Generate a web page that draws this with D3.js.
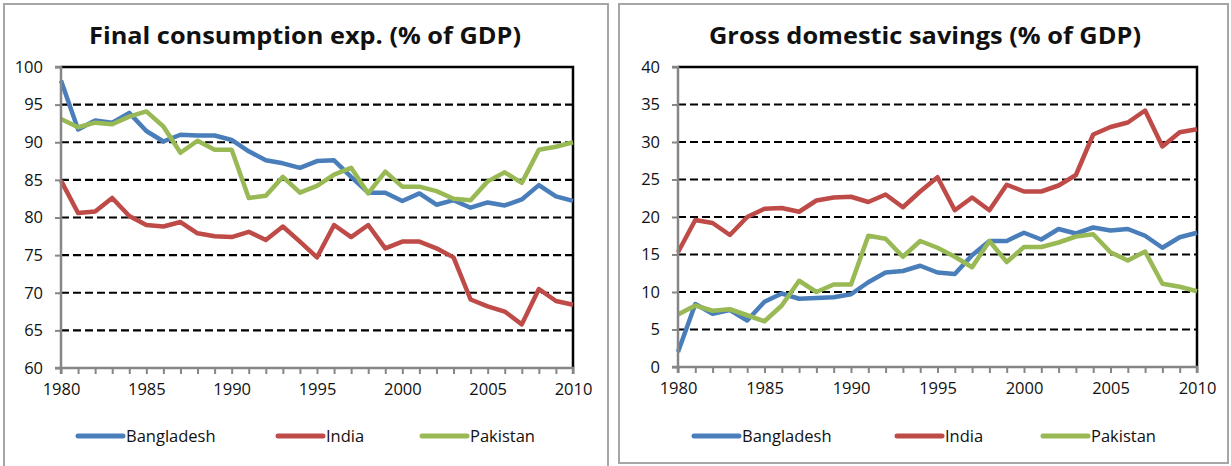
<!DOCTYPE html>
<html>
<head>
<meta charset="utf-8">
<script src="https://cdn.jsdelivr.net/npm/d3@7"></script>
<style>
body { margin: 0; background: #fff; }
text { font-family: "Open Sans", Lato, sans-serif; fill: #111; }
</style>
</head>
<body>
<svg id="chart" width="1231" height="466"></svg>
<script>
'use strict';
// data
var years = [1980, 1981, 1982, 1983, 1984, 1985, 1986, 1987, 1988, 1989, 1990,
             1991, 1992, 1993, 1994, 1995, 1996, 1997, 1998, 1999, 2000,
             2001, 2002, 2003, 2004, 2005, 2006, 2007, 2008, 2009, 2010];
var xTicks = [1980, 1985, 1990, 1995, 2000, 2005, 2010];
var countries = ['Bangladesh', 'India', 'Pakistan'];
var colors = ['#4a7ebb', '#be4b48', '#98b954'];

// Final consumption exp. (% of GDP)
var consBangladesh = [98.2, 91.7, 92.9, 92.6, 93.9, 91.5, 90.1, 91.0, 90.9, 90.9, 90.3,
                      88.8, 87.6, 87.2, 86.6, 87.5, 87.6, 85.4, 83.3, 83.3, 82.2,
                      83.2, 81.7, 82.3, 81.3, 82.0, 81.6, 82.4, 84.3, 82.8, 82.2];
var consIndia = [84.9, 80.6, 80.8, 82.6, 80.2, 79.0, 78.8, 79.4, 77.9, 77.5, 77.4,
                 78.1, 77.0, 78.8, 76.8, 74.7, 79.0, 77.4, 79.0, 75.9, 76.8,
                 76.8, 75.9, 74.7, 69.1, 68.2, 67.5, 65.8, 70.5, 68.9, 68.4];
var consPakistan = [93.1, 92.0, 92.6, 92.4, 93.4, 94.1, 92.1, 88.6, 90.2, 89.0, 89.0,
                    82.6, 82.9, 85.4, 83.3, 84.2, 85.7, 86.6, 83.2, 86.1, 84.1,
                    84.1, 83.5, 82.5, 82.3, 84.8, 86.0, 84.6, 89.0, 89.4, 90.0];

// Gross domestic savings (% of GDP)
var savBangladesh = [2.0, 8.4, 7.1, 7.6, 6.2, 8.7, 9.8, 9.1, 9.2, 9.3, 9.7,
                     11.3, 12.6, 12.8, 13.5, 12.6, 12.4, 14.9, 16.8, 16.8, 17.9,
                     17.0, 18.4, 17.8, 18.6, 18.2, 18.4, 17.5, 15.9, 17.3, 17.9];
var savIndia = [15.3, 19.6, 19.2, 17.6, 20.0, 21.1, 21.2, 20.7, 22.2, 22.6, 22.7,
                22.0, 23.0, 21.3, 23.4, 25.3, 20.9, 22.6, 20.9, 24.3, 23.4,
                23.4, 24.2, 25.6, 31.0, 32.0, 32.6, 34.2, 29.4, 31.3, 31.7];
var savPakistan = [7.0, 8.2, 7.5, 7.7, 6.9, 6.1, 8.2, 11.5, 10.0, 11.0, 11.0,
                   17.5, 17.1, 14.7, 16.8, 15.9, 14.7, 13.3, 16.8, 14.0, 16.0,
                   16.0, 16.6, 17.4, 17.7, 15.3, 14.2, 15.4, 11.1, 10.7, 10.1];

var consTicks = [60, 65, 70, 75, 80, 85, 90, 95, 100];
var savTicks = [0, 5, 10, 15, 20, 25, 30, 35, 40];

var svg = d3.select('#chart');

function drawChart(cfg){
    var g = svg.append('g');

    // panel frame
    g.append('rect')
        .attr('x', cfg.panel[0]).attr('y', cfg.panel[1])
        .attr('width', cfg.panel[2]).attr('height', cfg.panel[3])
        .attr('fill', '#fff').attr('stroke', '#a6a6a6').attr('stroke-width', 2);

    g.append('text')
        .text(cfg.title)
        .attr('x', cfg.titleX).attr('y', 44)
        .attr('text-anchor', 'middle')
        .attr('font-size', 23).attr('font-weight', 'bold')
        .attr('textLength', 432).attr('lengthAdjust', 'spacingAndGlyphs');

    var x = d3.scaleLinear().domain([years[0], years[years.length - 1]]).range([cfg.left, cfg.right]);
    var y = d3.scaleLinear().domain([cfg.ticks[0], cfg.ticks[cfg.ticks.length - 1]]).range([cfg.bottom, cfg.top]);

    // dashed gridlines
    g.selectAll('.grid')
        .data(cfg.ticks.slice(1, -1))
        .enter()
        .append('line')
        .attr('x1', cfg.left).attr('x2', cfg.right)
        .attr('y1', function(d){return y(d);}).attr('y2', function(d){return y(d);})
        .attr('stroke', '#000').attr('stroke-width', 2.2)
        .attr('stroke-dasharray', '8,4');

    // top and right border of the plot
    g.append('path')
        .attr('d', 'M' + cfg.left + ',' + cfg.top + 'H' + cfg.right + 'V' + cfg.bottom)
        .attr('fill', 'none').attr('stroke', '#000').attr('stroke-width', 2.5);

    var line = d3.line()
        .x(function(d, i){return x(years[i]);})
        .y(function(d){return y(d);});

    g.selectAll('.series')
        .data(cfg.series)
        .enter()
        .append('path')
        .attr('d', function(d){return line(d);})
        .attr('fill', 'none')
        .attr('stroke', function(d, i){return colors[i];})
        .attr('stroke-width', 4.5)
        .attr('stroke-linejoin', 'round');

    // axes
    var yAxis = g.append('g')
        .attr('transform', 'translate(' + cfg.left + ',0)')
        .call(d3.axisLeft(y).tickValues(cfg.ticks).tickSize(6).tickPadding(12));
    var xAxis = g.append('g')
        .attr('transform', 'translate(0,' + cfg.bottom + ')')
        .call(d3.axisBottom(x).tickValues(years).tickSize(6).tickPadding(9)
            .tickFormat(function(d){return xTicks.indexOf(d) >= 0 ? d : '';}));
    [yAxis, xAxis].forEach(function(a){
        a.select('.domain').attr('stroke', '#868686').attr('stroke-width', 2.5);
        a.selectAll('.tick line').attr('stroke', '#868686').attr('stroke-width', 2);
        a.selectAll('.tick text')
            .attr('font-family', '"Open Sans", sans-serif')
            .attr('font-size', 16.5).attr('fill', '#111');
    });
    yAxis.select('.domain').attr('d', 'M-6,' + cfg.top + 'H0V' + cfg.bottom + 'H-6');
    xAxis.select('.domain').attr('d', 'M' + cfg.left + ',6V0H' + cfg.right + 'V6');

    // legend
    var leg = g.selectAll('.legend')
        .data(countries)
        .enter()
        .append('g')
        .attr('transform', function(d, i){return 'translate(' + cfg.legendX[i] + ',436)';});
    leg.append('line')
        .attr('x1', 0).attr('x2', 45)
        .attr('stroke', function(d, i){return colors[i];})
        .attr('stroke-width', 5).attr('stroke-linecap', 'round');
    leg.append('text')
        .text(function(d){return d;})
        .attr('x', 48).attr('y', 6)
        .attr('font-size', 16.5);
}

drawChart({
    title: 'Final consumption exp. (% of GDP)',
    titleX: 305,
    panel: [4, 4, 604, 470],
    left: 61, right: 573, top: 67, bottom: 368,
    ticks: consTicks,
    series: [consBangladesh, consIndia, consPakistan],
    legendX: [78, 278, 422]
});

drawChart({
    title: 'Gross domestic savings (% of GDP)',
    titleX: 925,
    panel: [619, 4, 609, 459],
    left: 678, right: 1197, top: 67, bottom: 367,
    ticks: savTicks,
    series: [savBangladesh, savIndia, savPakistan],
    legendX: [694, 897, 1043]
});
</script>
</body>
</html>
